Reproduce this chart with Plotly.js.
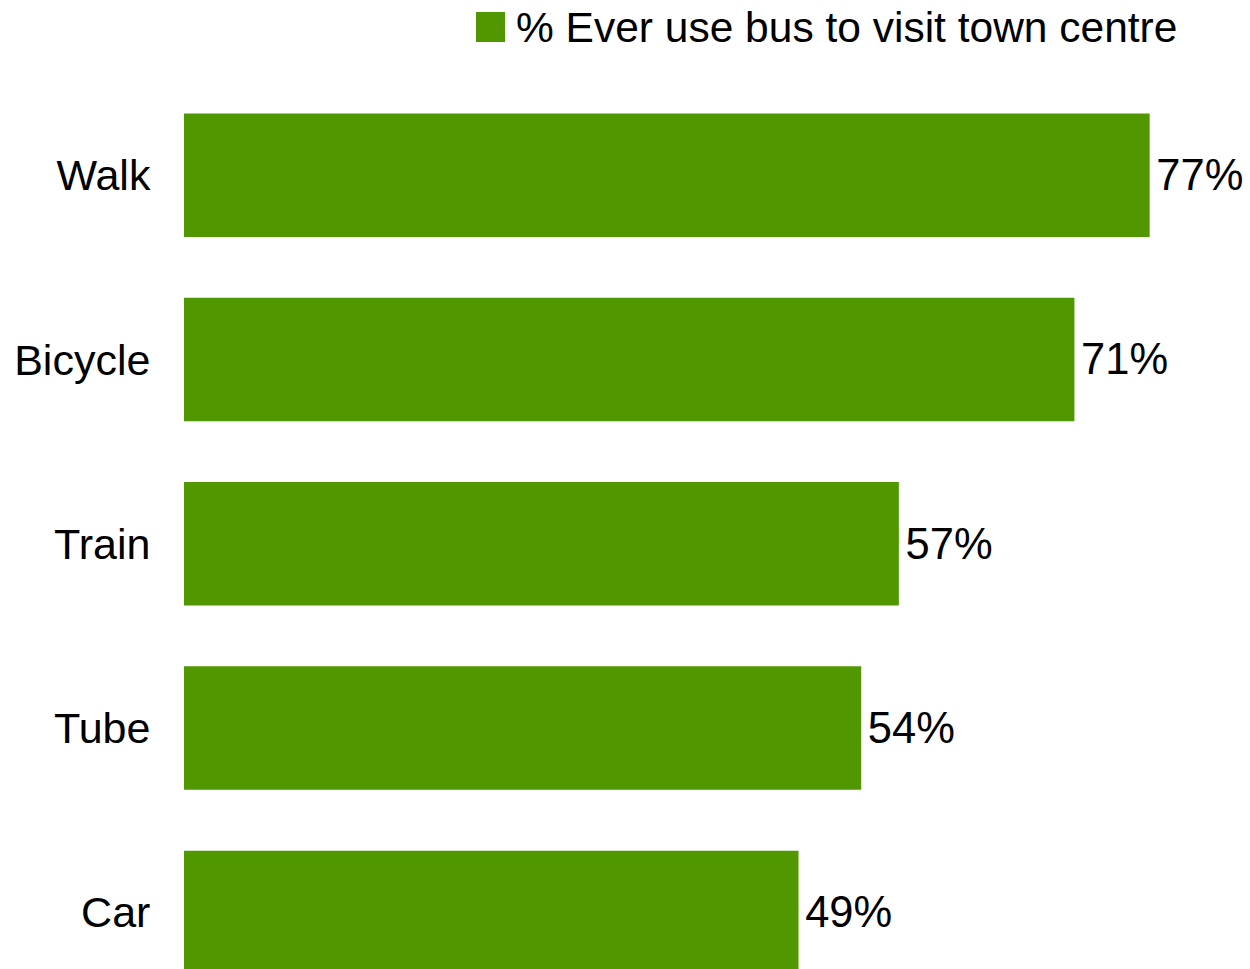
<!DOCTYPE html>
<html>
<head>
<meta charset="utf-8">
<script src="https://cdn.plot.ly/plotly-3.0.1.min.js"></script>
<style>html,body{margin:0;padding:0;background:#fff;}#chart{width:1250px;height:969px;}</style>
</head>
<body>
<div id="chart"></div>
<script>
const categories = ["Walk", "Bicycle", "Train", "Tube", "Car"];
const values = [77, 71, 57, 54, 49];
const valueLabels = ["77%", "71%", "57%", "54%", "49%"];
const seriesName = "% Ever use bus to visit town centre";
const barColor = "#519800";
const fontFamily = "Liberation Sans, Arial, sans-serif";

const trace = {
  type: "bar",
  orientation: "h",
  y: categories,
  x: values,
  name: seriesName,
  marker: { color: barColor },
  text: valueLabels.map(s => "\u200A" + s),
  textposition: "outside",
  cliponaxis: false,
  textfont: { family: fontFamily, size: 43.5, color: "#000" },
  hoverinfo: "skip",
  showlegend: false
};

const layout = {
  width: 1250,
  height: 969,
  margin: { l: 184, r: 0, t: 83, b: 0 },
  paper_bgcolor: "#fff",
  plot_bgcolor: "#fff",
  bargap: 0.33,
  showlegend: false,
  font: { family: fontFamily, color: "#000" },
  xaxis: { range: [0, 85], visible: false, fixedrange: true },
  yaxis: {
    type: "category",
    range: [4.307, -0.5],
    showgrid: false,
    zeroline: false,
    showline: false,
    ticks: "outside",
    ticklen: 24,
    tickcolor: "rgba(0,0,0,0)",
    tickfont: { family: fontFamily, size: 43, color: "#000" }
  },
  shapes: [{
    type: "rect", xref: "paper", yref: "paper",
    x0: (476 - 184) / 1066, x1: (505 - 184) / 1066,
    y0: 1 + (83 - 42) / 886, y1: 1 + (83 - 12) / 886,
    fillcolor: barColor, line: { width: 0 }
  }],
  annotations: [{
    xref: "paper", yref: "paper",
    x: (514 - 184) / 1066, y: 1 + (83 - 27) / 886,
    xanchor: "left", yanchor: "middle",
    text: seriesName, showarrow: false,
    font: { family: fontFamily, size: 42.5, color: "#000" }
  }]
};

Plotly.newPlot("chart", [trace], layout, { displayModeBar: false, staticPlot: true });
</script>
</body>
</html>
